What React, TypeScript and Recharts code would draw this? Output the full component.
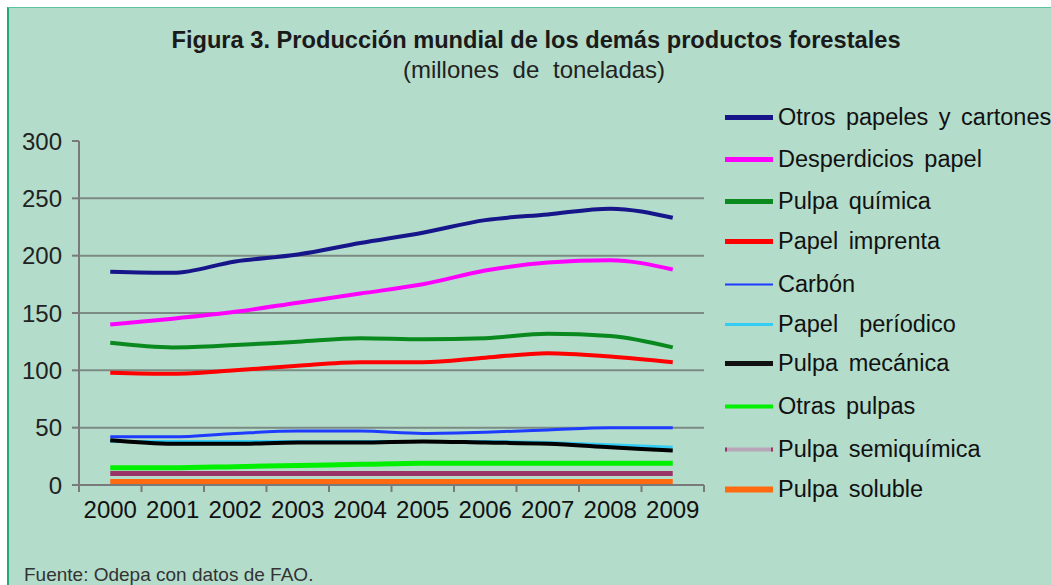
import { LineChart, Line, XAxis, YAxis, CartesianGrid } from 'recharts'

// Producción mundial, millones de toneladas
const years = ['2000', '2001', '2002', '2003', '2004', '2005', '2006', '2007', '2008', '2009']
const otrosPapeles = [186, 185, 195, 201, 211, 220, 231, 236, 241, 233]
const desperdicios = [140, 145, 151, 159, 167, 175, 187, 194, 196, 188]
const pulpaQuimica = [124, 120, 122, 125, 128, 127, 128, 132, 130, 120]
const papelImprenta = [98, 97, 100, 104, 107, 107, 111, 115, 112, 107]
const carbon = [42, 42, 45, 47, 47, 45, 46, 48, 50, 50]
const papelPeriodico = [38, 38, 38, 38, 38, 38, 38, 37, 35, 33]
const pulpaMecanica = [39, 36, 36, 37, 37, 38, 37, 36, 33, 30]
const otrasPulpas = [15, 15, 16, 17, 18, 19, 19, 19, 19, 19]
const pulpaSemiquimica = [10, 10, 10, 10, 10, 10, 10, 10, 10, 10]
const pulpaSoluble = [3, 3, 3, 3, 3, 3, 3, 3, 3, 3]
const yTicks = [0, 50, 100, 150, 200, 250, 300]
const gridValues = [50, 100, 150, 200, 250]

const series = [
  { key: 'otros', name: 'Otros papeles y cartones', values: otrosPapeles, color: '#16168a', width: 4, legend: '#16168a', lw: 5 },
  { key: 'desp', name: 'Desperdicios papel', values: desperdicios, color: '#ff00ff', width: 4, legend: '#ff00ff', lw: 5 },
  { key: 'quim', name: 'Pulpa química', values: pulpaQuimica, color: '#0a8a1e', width: 4, legend: '#0a8a1e', lw: 5 },
  { key: 'impr', name: 'Papel imprenta', values: papelImprenta, color: '#ff0000', width: 4, legend: '#ff0000', lw: 5 },
  { key: 'carb', name: 'Carbón', values: carbon, color: '#1e3cff', width: 3, legend: '#1e3cff', lw: 2 },
  { key: 'peri', name: 'Papel  períodico', values: papelPeriodico, color: '#33ccf5', width: 3, legend: '#33ccf5', lw: 3 },
  { key: 'mec', name: 'Pulpa mecánica', values: pulpaMecanica, color: '#000000', width: 4, legend: '#111111', lw: 5 },
  { key: 'otras', name: 'Otras pulpas', values: otrasPulpas, color: '#00f000', width: 5, legend: '#00f000', lw: 4 },
  { key: 'semi', name: 'Pulpa semiquímica', values: pulpaSemiquimica, color: '#9b3466', width: 5, legend: '#b8a6b8', lw: 4 },
  { key: 'sol', name: 'Pulpa soluble', values: pulpaSoluble, color: '#ff6a10', width: 5, legend: '#ff6a10', lw: 6 },
]

const data = years.map((year, i) => {
  const row: Record<string, string | number> = { year }
  series.forEach(s => { row[s.key] = s.values[i] })
  return row
})

const FONT = '"Liberation Sans", Arial, sans-serif'
const PLOT_LEFT = 79
const PLOT_RIGHT = 704
const PLOT_BOTTOM = 485
const BW = (PLOT_RIGHT - PLOT_LEFT) / years.length
const LEGEND_ROWS = [117, 159, 201, 241, 284, 324, 363, 406, 449, 489]

function YearTick(props: any) {
  const { x, payload, index } = props
  return (
    <g>
      <line x1={x - BW / 2} x2={x - BW / 2} y1={PLOT_BOTTOM} y2={PLOT_BOTTOM + 7} stroke="#7a7a7a" strokeWidth={2} />
      {index === years.length - 1 && (
        <line x1={x + BW / 2} x2={x + BW / 2} y1={PLOT_BOTTOM} y2={PLOT_BOTTOM + 7} stroke="#7a7a7a" strokeWidth={2} />
      )}
      <text x={x} y={PLOT_BOTTOM + 33} textAnchor="middle" fontSize={24} fontFamily={FONT} fill="#111">
        {payload.value}
      </text>
    </g>
  )
}

export default function App() {
  return (
    <div style={{ position: 'absolute', left: 0, top: 0, width: 1051, height: 585, background: '#fff', overflow: 'hidden' }}>
      <div style={{
        position: 'absolute', left: 7, top: 7, width: 1044, height: 578,
        background: '#b3dccb', borderLeft: '2px solid #23a878', borderTop: '1px solid #5cc39c',
        boxSizing: 'border-box',
      }} />

      <div style={{
        position: 'absolute', left: 536, top: 26, transform: 'translateX(-50%) scaleX(0.985)',
        whiteSpace: 'nowrap', fontFamily: FONT, fontWeight: 700, fontSize: 24, color: '#1a1a1a', textAlign: 'center',
      }}>
        Figura 3. Producción mundial de los demás productos forestales
      </div>
      <div style={{
        position: 'absolute', left: 534, top: 56, transform: 'translateX(-50%)',
        whiteSpace: 'nowrap', fontFamily: FONT, fontSize: 24, wordSpacing: 7, color: '#222',
      }}>
        (millones de toneladas)
      </div>

      <div style={{ position: 'absolute', left: 0, top: 0 }}>
        <LineChart width={1051} height={585} data={data} margin={{ top: 141, right: 1051 - PLOT_RIGHT, bottom: 70, left: 19 }}>
          <CartesianGrid vertical={false} horizontalValues={gridValues} stroke="#7b8a83" strokeWidth={2} />
          <XAxis
            dataKey="year"
            scale="band"
            height={30}
            axisLine={{ stroke: '#7a7a7a', strokeWidth: 2 }}
            tickLine={false}
            interval={0}
            tick={<YearTick />}
          />
          <YAxis
            domain={[0, 300]}
            ticks={yTicks}
            width={60}
            tickSize={7}
            tickMargin={10}
            axisLine={{ stroke: '#7a7a7a', strokeWidth: 2 }}
            tickLine={{ stroke: '#7a7a7a', strokeWidth: 2 }}
            tick={{ fill: '#222', fontSize: 24, fontFamily: FONT }}
          />
          {series.map(s => (
            <Line
              key={s.key}
              type="monotone"
              dataKey={s.key}
              name={s.name}
              stroke={s.color}
              strokeWidth={s.width}
              dot={false}
              isAnimationActive={false}
            />
          ))}
        </LineChart>
      </div>

      {series.map((s, i) => (
        <div key={s.key} style={{
          position: 'absolute', left: 724, top: LEGEND_ROWS[i], transform: 'translateY(-50%)',
          display: 'flex', alignItems: 'center', whiteSpace: 'pre',
        }}>
          <svg width={50} height={10} style={{ display: 'block' }}>
            <line x1={1} x2={49} y1={5} y2={5} stroke={s.legend} strokeWidth={s.lw} />
            {s.key === 'semi' && (
              <>
                <line x1={1} x2={3} y1={5} y2={5} stroke="#9b3466" strokeWidth={s.lw} />
                <line x1={47} x2={49} y1={5} y2={5} stroke="#9b3466" strokeWidth={s.lw} />
              </>
            )}
          </svg>
          <span style={{ marginLeft: 4, fontFamily: FONT, fontSize: 23.5, wordSpacing: 4, color: '#111' }}>{s.name}</span>
        </div>
      ))}

      <div style={{ position: 'absolute', left: 24, top: 564, fontFamily: FONT, fontSize: 19, color: '#333', whiteSpace: 'nowrap' }}>
        Fuente: Odepa con datos de FAO.
      </div>
    </div>
  )
}
